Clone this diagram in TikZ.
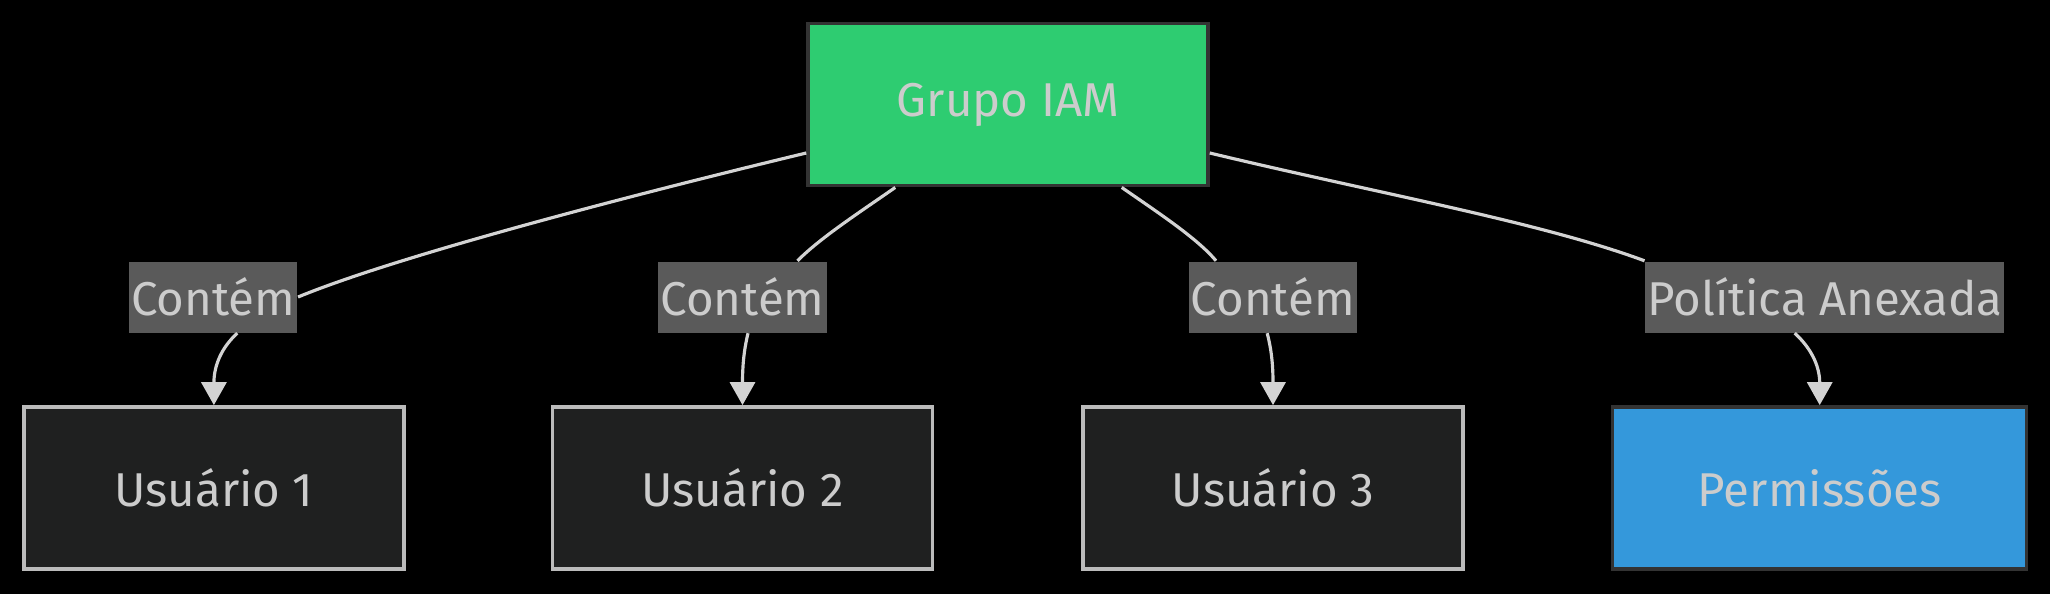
\documentclass[tikz,border=0pt]{standalone}
\usepackage{fontspec}
\setmainfont{Fira Sans}
\usetikzlibrary{calc,arrows.meta}
\definecolor{txt}{HTML}{CCCCCC}
\definecolor{edgec}{HTML}{D3D3D3}
\definecolor{grpfill}{HTML}{2ECC71}
\definecolor{darkborder}{HTML}{333333}
\definecolor{userfill}{HTML}{1F2020}
\definecolor{userborder}{HTML}{BBBBBB}
\definecolor{permfill}{HTML}{3498DB}
\definecolor{lblfill}{HTML}{5A5A5A}
\tikzset{
  box/.style={draw, line width=1pt, minimum height=1.62cm, inner sep=0pt,
    text=txt, font=\fontsize{13.5}{16}\selectfont},
  grpbox/.style={box, fill=grpfill, draw=darkborder, minimum width=4.0cm},
  userbox/.style={box, fill=userfill, draw=userborder, minimum width=3.8cm},
  permbox/.style={box, fill=permfill, draw=darkborder, minimum width=4.14cm},
  lbl/.style={fill=lblfill, text=txt, inner xsep=0.02cm, inner ysep=0pt,
    minimum height=0.71cm, font=\fontsize{13.5}{16}\selectfont},
  conn/.style={draw=edgec, line width=0.9pt},
  arr/.style={conn, -{Triangle[length=0.23cm, width=0.25cm]}},
}
\begin{document}
\begin{tikzpicture}
\fill[black] (0,0) rectangle (20.5,5.94);
\useasboundingbox (0,0) rectangle (20.5,5.94);

\node[grpbox] (g) at (10.08,4.893) {Grupo IAM};
\node[userbox] (u1) at (2.139,1.061) {Usuário 1};
\node[userbox] (u2) at (7.425,1.061) {Usuário 2};
\node[userbox] (u3) at (12.73,1.061) {Usuário 3};
\node[permbox] (p) at (18.197,1.061) {Permissões};

\node[lbl] (l1) at (2.133,2.97) {Contém};
\node[lbl] (l2) at (7.425,2.97) {Contém};
\node[lbl] (l3) at (12.727,2.97) {Contém};
\node[lbl] (l4) at (18.247,2.97) {Política Anexada};

\path[conn] ($(g.west)+(0,-0.483)$) .. controls (6.40,4.01) and (4.00,3.39) .. (l1.east);
\path[arr] ($(l1.south)+(0.24,0)$) .. controls (2.22,2.47) and (2.139,2.29) .. (u1.north);

\path[conn] ($(g.south west)+(0.89,0)$) .. controls (8.60,3.82) and (8.20,3.56) .. ($(l2.north)+(0.55,0)$);
\path[arr] ($(l2.south)+(0.055,0)$) .. controls (7.44,2.44) and (7.425,2.29) .. (u2.north);

\path[conn] ($(g.south east)+(-0.88,0)$) .. controls (11.57,3.82) and (11.97,3.56) .. ($(l3.north)+(-0.567,0)$);
\path[arr] ($(l3.south)+(-0.055,0)$) .. controls (12.715,2.44) and (12.73,2.29) .. (u3.north);

\path[conn] ($(g.east)+(0,-0.483)$) .. controls (13.76,4.01) and (15.40,3.72) .. (l4.north west);
\path[arr] ($(l4.south)+(-0.30,0)$) .. controls (18.10,2.47) and (18.197,2.29) .. (p.north);
\end{tikzpicture}
\end{document}
